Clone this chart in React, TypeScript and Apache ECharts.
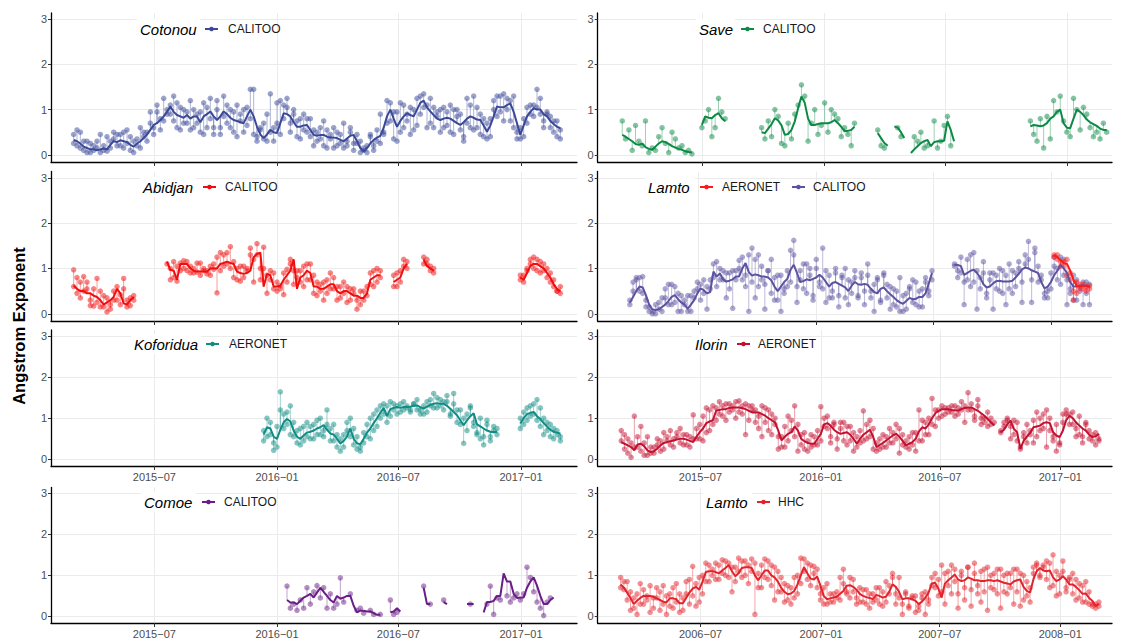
import React, { useEffect, useRef } from 'react';
import * as echarts from 'echarts';

const FONT = "'Liberation Sans', Arial, Helvetica, sans-serif";
const DAY = 86400000;
const STEP_DAYS = 5;
const START_A = '2015-03-02';
const START_B = '2006-03-01';

const TICKS_A = ['2015-07-01', '2016-01-01', '2016-07-01', '2017-01-01'];
const TICKS_B = ['2006-07-01', '2007-01-01', '2007-07-01', '2008-01-01'];
const Y_TICKS = [0, 1, 2, 3];

const _ = null;
const gap = (n: number): null[] => Array(n).fill(null);

// ---------- Cotonou CALITOO ----------
const cotonouSmooth = [
  0.33, 0.3, 0.25, 0.18, 0.15, 0.12, 0.12, 0.1, 0.12, 0.14,
  0.12, 0.22, 0.3, 0.28, 0.32, 0.3, 0.28, 0.22, 0.18, 0.25,
  0.3, 0.37, 0.45, 0.55, 0.66, 0.7, 0.77, 0.85, 0.95, 1.07,
  0.95, 0.88, 0.85, 0.82, 0.88, 0.8, 0.85, 0.85, 0.72, 0.85,
  0.9, 0.96, 0.85, 0.77, 0.85, 0.96, 0.9, 0.82, 0.77, 0.75,
  0.72, 0.7, 0.85, 1.0, 0.85, 0.62, 0.45, 0.37, 0.45, 0.55,
  0.5, 0.48, 0.7, 0.92, 0.9, 0.85, 0.72, 0.62, 0.62, 0.65,
  0.66, 0.55, 0.44, 0.42, 0.44, 0.44, 0.4, 0.38, 0.38, 0.37,
  0.33, 0.3, 0.36, 0.42, 0.44, 0.3, 0.15, 0.07, 0.15, 0.25,
  0.33, 0.38, 0.42, 0.6, 0.85, 1.0, 0.8, 0.62, 0.75, 0.85,
  0.92, 0.88, 0.85, 1.0, 1.15, 1.2, 1.05, 0.96, 0.88, 0.8,
  0.77, 0.8, 0.82, 0.8, 0.75, 0.7, 0.66, 0.72, 0.8, 0.85,
  0.82, 0.78, 0.77, 0.65, 0.51, 0.65, 0.85, 1.07, 1.05, 1.05,
  1.1, 1.14, 0.95, 0.7, 0.44, 0.65, 0.85, 0.95, 1.03, 1.0,
  1.0, 0.9, 0.85, 0.75, 0.68, 0.62, 0.59,
];
const cotonouObs = [
  0.45, 0.2, 0.5, 0.1, 0.3, 0.05, 0.2, 0.15, 0.45, 0.1, 0.08,
  0.3, 0.5, 0.2, 0.45, 0.15, 0.55, 0.1, 0.3, 0.2, 0.6, 0.4,
  0.5, 0.7, 0.45, 0.95, 0.8, 1.25, 0.9, 1.1, 1.3, 0.6, 1.05,
  0.7, 0.95, 0.55, 1.0, 0.9, 0.5, 1.15, 0.6, 1.25, 0.6, 1.0,
  0.45, 1.3, 0.7, 1.0, 0.5, 1.1, 0.75, 0.5, 1.05, 1.45, 0.45,
  0.4, 0.6, 0.35, 0.9, 0.5, 0.6, 0.7, 1.2, 1.1, 1.05, 0.7,
  1.0, 0.4, 0.8, 0.55, 0.8, 0.4, 0.55, 0.3, 0.6, 0.2, 0.55,
  0.35, 0.15, 0.5, 0.25, 0.7, 0.2, 0.6, 0.1, 0.25, 0.05, 0.1,
  0.2, 0.45, 0.1, 0.3, 0.9, 0.5, 1.2, 1.15, 0.35, 0.95, 0.5,
  1.1, 0.9, 0.45, 1.0, 0.65, 1.3, 1.35, 1.1, 0.7, 1.05, 0.85,
  0.5, 1.05, 0.95, 0.5, 1.0, 0.85, 0.55, 0.3, 1.25, 1.1, 0.55,
  1.05, 0.9, 0.4, 0.35, 0.8, 1.0, 1.3, 1.3, 0.75, 1.25, 1.2,
  0.6, 0.5, 0.35, 0.8, 0.7, 1.1, 1.1, 1.45, 0.9, 0.75, 0.95,
  0.6, 0.75, 0.4, 0.55,
];
const cotonouObs2 = [
  0.25, 0.55, 0.15, 0.3, 0.05, 0.25, 0.1, 0.3, 0.05, 0.2,
  0.4, 0.15, 0.35, 0.45, 0.2, 0.5, 0.25, 0.4, 0.05, 0.35,
  0.15, 0.5, 0.3, 0.95, 0.6, 1.1, 0.55, 0.75, 1.0, 0.9,
  0.75, 1.15, 0.55, 1.0, 0.7, 1.2, 0.6, 0.7, 0.95, 0.45,
  1.05, 0.8, 0.45, 1.2, 0.6, 0.85, 1.1, 0.6, 0.95, 0.4,
  0.9, 1.0, 0.65, 0.8, 1.45, 0.3, 0.55, 0.7, 0.3, 1.35,
  0.3, 1.15, 0.45, 0.8, 1.25, 0.5, 0.9, 0.75, 0.35, 0.9,
  0.5, 0.8, 0.2, 0.5, 0.35, 0.75, 0.15, 0.45, 0.6, 0.2,
  0.45, 0.15, 0.3, 0.5, 0.25, 0.45, 0.3, 0.15, 0.05, 0.4,
  0.2, 0.55, 0.25, 0.45, 0.7, 0.75, 0.95, 0.3, 1.15, 0.6,
  0.75, 1.05, 0.55, 1.25, 0.9, 1.05, 0.6, 1.25, 0.6, 0.95,
  1.0, 0.6, 0.65, 1.1, 0.45, 1.0, 0.9, 0.4, 0.7, 0.6,
  1.3, 0.6, 0.45, 0.8, 0.7, 0.4, 1.2, 0.85, 0.95, 1.35,
  1.0, 0.75, 1.3, 0.35, 0.6, 0.4, 1.05, 0.9, 0.85, 1.05,
  1.25, 0.6, 0.9, 0.85, 0.5, 0.75, 0.35,
];

// ---------- Abidjan CALITOO ----------
const abidjanSmooth = [
  0.62, 0.55, 0.5, 0.5, 0.45, 0.45, 0.4, 0.37, 0.3, 0.2, 0.25, 0.3, 0.37, 0.55, 0.45, 0.23, 0.2, 0.3, 0.37,
  ...gap(9),
  1.15, 0.97, 0.95, 0.75, 1.1, 1.1, 1.1, 1.0, 0.95, 0.93,
  0.93, 0.93, 0.93, 1.0, 1.0, 1.0, 1.1, 1.12, 1.15, 1.12,
  1.1, 0.93, 0.9, 0.88, 0.9, 0.95, 1.25, 1.32, 1.35, 0.6,
  0.88, 0.85, 0.6, 0.6, 0.62, 0.75, 0.85, 0.95, 1.2, 0.55,
  0.8, 0.85, 0.95, 0.9, 0.6, 0.6, 0.55, 0.55, 0.6, 0.65,
  0.65, 0.5, 0.45, 0.5, 0.5, 0.45, 0.4, 0.4, 0.35, 0.35,
  0.45, 0.75, 0.8, 0.85, 0.85,
  ...gap(3),
  0.7, 0.75, 0.8, 1.0, 1.1,
  ...gap(4),
  1.2, 1.05, 1.0, 0.95,
  ...gap(25),
  0.8, 0.75, 0.9, 1.05, 1.1, 1.1, 1.05, 1.0, 0.9, 0.8, 0.65, 0.55, 0.5,
];
const abidjanObs = [
  0.97, 0.45, 0.7, 0.82, 0.55, 0.18, 0.17, 0.78, 0.15, 0.4, 0.04, 0.2, 0.3, 0.6, 0.42, 0.78, 0.3, 0.18, 0.4,
  ...gap(9),
  1.1, 0.75, 1.15, 0.72, 1.12, 1.17, 0.95, 1.05, 0.9, 0.92,
  1.12, 0.95, 0.88, 1.05, 0.98, 0.46, 1.35, 1.3, 1.1, 1.48,
  0.8, 1.0, 0.72, 1.05, 0.95, 1.3, 0.7, 1.55, 1.0, 1.47,
  0.45, 0.95, 0.55, 0.5, 0.62, 0.42, 0.98, 1.2, 0.95, 0.8,
  0.95, 1.05, 0.75, 1.1, 0.45, 0.7, 0.5, 0.3, 0.75, 0.9,
  0.55, 0.3, 0.6, 0.7, 0.25, 0.55, 0.45, 0.1, 0.5, 0.3,
  0.4, 0.9, 0.6, 1.0, 0.8,
  ...gap(3),
  0.85, 0.6, 0.95, 1.2, 1.0,
  ...gap(4),
  1.25, 1.1, 0.95, 0.9,
  ...gap(25),
  0.75, 0.85, 1.0, 1.2, 1.25, 0.95, 1.15, 1.1, 0.8, 0.9, 0.6, 0.5, 0.45,
];
const abidjanObs2 = [
  0.6, 0.8, 0.35, 0.5, 0.7, 0.3, 0.55, 0.25, 0.5, 0.15, 0.35, 0.1, 0.5, 0.3, 0.2, 0.55, 0.15, 0.35, 0.3,
  ...gap(9),
  _, 1.0, 0.8, 1.05, 0.95, 1.0, 1.15, 0.9, 1.0, 1.12,
  0.85, 1.0, 0.95, 0.85, 1.1, 1.25, 0.95, 1.05, 1.35, 1.0,
  1.15, 0.75, 1.05, 0.8, 1.0, 1.45, 1.2, 1.3, 0.75, 1.0,
  0.85, 0.75, 0.9, 0.7, 0.55, 0.9, 0.7, 1.1, 0.65, 0.95,
  0.7, 0.6, 1.1, 0.75, 0.85, 0.4, 0.65, 0.7, 0.45, 0.55,
  0.8, 0.6, 0.35, 0.45, 0.6, 0.3, 0.55, 0.3, 0.2, 0.5,
  0.6, 0.65, 0.95, 0.7, 0.95,
  ...gap(3),
  0.6, 0.9, 0.7, 1.05, 1.15,
  ...gap(4),
  1.1, 1.2, 1.05, 1.0,
  ...gap(25),
  0.85, 0.7, 0.95, 1.1, 1.0, 1.2, 0.9, 0.95, 1.0, 0.7, 0.75, 0.5, 0.6,
];

// ---------- Koforidua AERONET ----------
const koforiduaSmooth = [
  ...gap(57),
  0.6, 0.78, 0.75, 0.55, 0.5, 0.72, 0.9, 0.98, 0.92, 0.7,
  0.55, 0.5, 0.58, 0.65, 0.67, 0.7, 0.75, 0.78, 0.83, 0.72,
  0.63, 0.6, 0.5, 0.39, 0.45, 0.55, 0.75, 0.5, 0.39, 0.37,
  0.5, 0.65, 0.75, 0.88, 1.0, 1.13, 1.25, 1.05, 1.22, 1.25,
  1.27, 1.25, 1.27, 1.27, 1.28, 1.3, 1.31, 1.27, 1.23, 1.28,
  1.32, 1.35, 1.36, 1.35, 1.35, 1.3, 1.23, 1.15, 1.07, 0.95,
  0.83, 0.95, 1.05, 1.12, 0.85, 0.8, 0.75, 0.7, 0.67, 0.66,
  0.67,
  ...gap(6),
  0.87, 1.0, 1.1, 1.13, 1.15, 1.05, 0.98, 0.88, 0.8, 0.72, 0.67, 0.65, 0.63,
];
const koforiduaObs = [
  ...gap(57),
  0.45, 1.0, 0.6, 0.22, 0.8, 1.64, 1.1, 0.85, 1.3, 0.55,
  0.4, 0.75, 0.45, 0.9, 0.5, 0.85, 0.6, 1.0, 0.55, 1.2,
  0.45, 0.85, 0.3, 0.2, 0.6, 0.9, 1.0, 0.35, 0.25, 0.2,
  0.65, 0.85, 0.5, 1.1, 0.8, 1.3, 1.35, 0.9, 1.4, 1.2,
  1.3, 1.15, 1.4, 1.25, 1.2, 1.35, 1.45, 1.2, 1.1, 1.4,
  1.3, 1.6, 1.25, 1.45, 1.4, 1.55, 1.1, 1.6, 1.2, 0.85,
  0.39, 1.1, 1.3, 0.9, 0.6, 0.5, 0.35, 0.95, 0.55, 0.8,
  0.6,
  ...gap(6),
  0.75, 1.15, 0.95, 1.3, 1.1, 1.45, 1.25, 0.6, 0.9, 0.55, 0.75, 0.6, 0.45,
];
const koforiduaObs2 = [
  ...gap(57),
  0.7, 0.55, 0.9, 0.4, 0.3, 1.2, 0.75, 1.15, 0.6, 0.9,
  0.7, 0.35, 0.8, 0.55, 0.8, 0.5, 0.95, 0.6, 0.7, 0.85,
  0.75, 0.45, 0.6, 0.5, 0.3, 0.7, 0.55, 0.75, 0.55, 0.3,
  0.4, 0.55, 1.0, 0.7, 1.2, 1.0, 1.1, 1.3, 1.05, 1.35,
  1.1, 1.35, 1.2, 1.3, 1.15, 1.35, 1.2, 1.1, 1.3, 1.15,
  1.45, 1.25, 1.5, 1.3, 1.2, 1.4, 1.05, 1.35, 0.9, 1.2,
  1.0, 0.7, 1.25, 0.8, 0.65, 1.0, 0.55, 0.85, 0.45, 0.7,
  0.75,
  ...gap(6),
  1.0, 0.85, 1.25, 1.05, 1.35, 0.95, 0.8, 1.0, 0.7, 0.85, 0.5, 0.7, 0.55,
];

// ---------- Comoe CALITOO ----------
const comoeSmooth = [
  ...gap(64),
  0.4, 0.34, 0.34, 0.3, 0.38, 0.46, 0.5, 0.55, 0.46, 0.58,
  0.7, 0.6, 0.5, 0.4, 0.34, 0.5, 0.43, 0.46, 0.5, 0.5,
  0.26, 0.1, 0.14, 0.14, 0.12, 0.12, 0.08, 0.04, 0.04,
  _, _,
  0.1, 0.12, 0.2, 0.12,
  ...gap(6),
  0.7, 0.3, 0.3,
  _, _, _,
  0.35, 0.3,
  ...gap(5),
  0.3, 0.3, 0.3,
  _, _,
  0.1, 0.35, 0.35, 0.38, 0.5, 0.5, 1.05, 0.85, 0.85, 0.55,
  0.45, 0.46, 0.46, 0.7, 0.85, 0.95, 0.75, 0.5, 0.3, 0.3,
  0.4, 0.46,
  _, _,
];
const comoeObs = [
  ...gap(64),
  0.74, 0.2, 0.3, 0.15, 0.4, 0.2, 0.7, 0.3, 0.6, 0.75,
  0.45, 0.7, 0.2, 0.55, 0.2, 0.3, 0.94, 0.35, _, 0.55,
  _, 0.15, 0.2, 0.08, _, 0.15, 0.05, _, 0.05,
  _, _,
  0.4, 0.05, 0.1, _,
  ...gap(6),
  0.74, _, 0.3,
  _, _, _,
  0.4, _,
  ...gap(5),
  _, 0.3, _,
  _, _,
  _, 0.3, 0.74, 0.05, 0.45, 0.4, _, 0.5, 0.35, 0.45,
  0.55, 0.4, 0.55, 1.2, 0.95, 0.6, 0.35, 0.2, 0.02, 0.35,
  0.45, _,
  _, _,
];

// ---------- Save CALITOO ----------
const saveSmooth = [
  0.44, 0.4, 0.35, 0.3, 0.24, 0.22, 0.25, 0.17, 0.13, 0.11,
  0.18, 0.25, 0.3, 0.28, 0.24, 0.19, 0.16, 0.13, 0.11, 0.08,
  0.06, 0.05,
  _, _,
  0.66, 0.85, 0.82, 0.81, 0.88, 0.92, 0.81, 0.74,
  ...gap(10),
  0.5, 0.48, 0.58, 0.68, 0.81, 0.76, 0.65, 0.44, 0.46, 0.55,
  0.74, 1.03, 1.29, 1.15, 0.8, 0.66, 0.66, 0.68, 0.7, 0.7,
  0.7, 0.72, 0.77, 0.7, 0.62, 0.52, 0.53, 0.55, 0.62,
  ...gap(6),
  0.48, 0.37, 0.26, 0.2,
  _,
  0.63, 0.6, 0.5, 0.37,
  _,
  0.04, 0.12, 0.19, 0.26, 0.3, 0.33, 0.19, 0.28, 0.3, 0.3,
  0.31, 0.74, 0.55, 0.3,
  ...gap(22),
  0.63, 0.66, 0.65, 0.63, 0.65, 0.7, 0.8, 0.85, 0.95, 1.0,
  0.7, 0.6, 0.59, 0.8, 1.0, 0.95, 0.88, 0.78, 0.72, 0.68,
  0.64, 0.58, 0.55, 0.55,
];
const saveObs = [
  0.75, 0.35, 0.55, 0.1, 0.65, 0.3, 0.2, 0.75, 0.05, 0.15,
  0.1, 0.4, 0.6, 0.25, 0.05, 0.5, 0.35, 0.15, 0.2, 0.05,
  0.1, 0.02,
  _, _,
  0.6, 0.75, 1.0, 0.4, 0.6, 1.25, 0.95, 0.8,
  ...gap(10),
  0.6, 0.35, 0.75, 0.4, 1.0, 0.85, 0.25, 0.2, 0.7, 0.35,
  0.9, 1.1, 1.55, 1.3, 0.3, 0.7, 1.0, 0.45, 0.65, 1.15,
  0.5, 1.0, 0.9, 0.8, 0.4, 0.6, 0.45, 0.2, 0.7,
  ...gap(6),
  0.55, 0.2, 0.15, _,
  _,
  _, 0.6, 0.4, _,
  _,
  _, 0.4, 0.3, 0.5, 0.15, 0.2, _, 0.75, 0.15, 0.3,
  0.65, 0.85, 0.2, _,
  ...gap(22),
  0.75, 0.45, 0.3, 0.8, 0.15, 0.85, 0.35, 1.2, 0.95, 1.3,
  0.75, 0.5, 0.4, 1.25, 1.0, 0.55, 1.05, 0.9, 0.6, 0.4,
  0.5, 0.35, 0.7, 0.5,
];

// ---------- Lamto CALITOO / AERONET ----------
const lamtoCalSmooth = [
  _, _, _,
  0.25, 0.37, 0.5, 0.6, 0.58, 0.41, 0.2, 0.1, 0.08, 0.1,
  0.15, 0.2, 0.28, 0.37, 0.41, 0.32, 0.25, 0.2, 0.11, 0.2,
  0.3, 0.45, 0.56, 0.52, 0.45, 0.48, 0.93, 0.82, 0.89, 0.76,
  0.71, 0.73, 0.76, 0.82, 0.82, 1.0, 1.12, 0.92, 0.84, 0.87,
  0.85, 0.82, 0.82, 0.8, 0.74, 0.6, 0.5, 0.6, 0.7, 0.77,
  0.97, 1.08, 0.9, 0.7, 0.72, 0.76, 0.74, 0.77, 0.8, 0.86,
  0.8, 0.7, 0.6, 0.68, 0.7, 0.66, 0.62, 0.58, 0.5, 0.62,
  0.7, 0.65, 0.64, 0.66, 0.64, 0.55, 0.48, 0.45, 0.55, 0.58,
  0.5, 0.43, 0.37, 0.3, 0.25, 0.22, 0.28, 0.35, 0.32, 0.33,
  0.37, 0.37, 0.45, 0.67, 0.9,
  ...gap(6),
  1.08, 1.08, 1.05, 0.86, 0.9, 0.95, 0.97, 0.9, 0.8, 0.65,
  0.58, 0.6, 0.67, 0.72, 0.73, 0.71, 0.71, 0.71, 0.73, 0.8,
  0.88, 0.98, 1.02, 1.0, 0.96, 0.93, 0.9, 0.7, 0.56, 0.6,
  0.7, 0.85, 0.95, 1.08, 1.0, 0.9, 0.7, 0.6, 0.6, 0.61,
  0.63, 0.61, 0.6,
];
const lamtoCalObs = [
  _, _, _,
  0.3, 0.7, 0.8, 0.5, 0.82, 0.15, 0.05, 0.0, 0.2, 0.1,
  0.35, 0.55, 0.65, 0.2, 0.6, 0.05, 0.4, 0.3, 0.05, 0.4,
  0.5, 0.7, 0.3, 0.75, 0.1, 0.55, 1.1, 0.6, 1.0, 0.75,
  0.35, 0.9, 0.12, 0.95, 1.18, 1.25, 0.6, 0.05, 1.45, 0.35,
  1.3, 0.75, 0.1, 0.95, 1.2, 0.3, 0.85, 0.05, 0.55, 0.95,
  1.4, 1.62, 0.25, 0.75, 1.1, 0.45, 1.0, 0.3, 1.2, 0.6,
  1.45, 0.25, 0.85, 0.35, 0.9, 0.15, 0.8, 1.0, 0.2, 0.7,
  0.95, 0.4, 0.8, 0.2, 1.1, 0.5, 0.05, 0.75, 0.3, 0.9,
  0.35, 0.1, 0.55, 0.15, 0.8, 0.05, 0.45, 0.6, 0.25, 0.7,
  0.15, 0.55, 0.8, 0.5, 0.95,
  ...gap(6),
  1.05, 0.95, 1.25, 0.2, 1.2, 0.6, 1.35, 0.1, 0.8, 1.15,
  0.45, 0.9, 0.1, 0.85, 0.5, 0.95, 0.2, 1.1, 0.45, 0.9,
  1.0, 0.25, 1.3, 1.6, 0.25, 1.45, 1.05, 0.75, 0.35, 0.5,
  0.9, 1.25, 1.0, 0.65, 1.2, 0.2, 0.55, 0.85, 0.3, 0.6,
  0.2, 0.7, 0.2,
];
const lamtoCalObs2 = [
  _, _, _,
  0.2, 0.5, 0.75, 0.8, 0.45, 0.3, 0.15, 0.05, 0.0, 0.25,
  0.05, 0.35, 0.2, 0.65, 0.25, 0.45, 0.05, 0.2, 0.4, 0.05,
  0.35, 0.55, 0.65, 0.45, 0.6, 0.75, 0.8, 1.15, 0.75, 0.95,
  0.9, 0.55, 0.95, 0.75, 1.0, 0.75, 0.85, 1.3, 0.7, 1.2,
  0.6, 1.05, 0.65, 0.95, 0.45, 0.8, 0.3, 0.85, 0.45, 0.6,
  0.7, 1.3, 0.6, 0.95, 0.55, 1.1, 0.85, 0.4, 1.0, 0.7,
  0.55, 0.95, 0.35, 0.5, 1.0, 0.4, 0.85, 0.35, 0.75, 0.45,
  0.8, 0.35, 0.9, 0.5, 0.85, 0.35, 0.65, 0.8, 0.25, 0.85,
  0.65, 0.6, 0.2, 0.5, 0.05, 0.4, 0.1, 0.55, 0.75, 0.2,
  0.5, 0.15, 0.7, 0.4, 0.75,
  ...gap(6),
  1.1, 0.8, 0.9, 0.7, 0.75, 1.3, 0.7, 0.95, 0.55, 0.9,
  0.35, 0.75, 0.9, 0.55, 1.0, 0.45, 0.85, 0.55, 0.95, 0.6,
  1.15, 0.7, 1.1, 1.2, 0.75, 1.35, 0.7, 0.85, 0.45, 0.35,
  0.55, 1.05, 0.75, 1.25, 0.85, 0.75, 0.45, 0.3, 0.75, 0.5,
  0.7, 0.45, 0.65,
];
const lamtoAerSmooth = [
  ...gap(135),
  1.3, 1.25, 1.18, 1.12, 1.1, 0.95, 0.75, 0.62, 0.6, 0.62, 0.62, 0.6,
];
const lamtoAerObs = [
  ...gap(135),
  1.3, 1.2, 1.05, 1.15, 0.85, 0.9, 0.3, 0.45, 0.65, 0.55, 0.6, 0.55,
];
const lamtoAerObs2 = [
  ...gap(135),
  1.25, 1.3, 1.15, 1.05, 1.2, 0.75, 0.5, 0.7, 0.55, 0.65, 0.5, 0.62,
];

// ---------- Ilorin AERONET ----------
const ilorinSmooth = [
  0.42, 0.38, 0.34, 0.3, 0.22, 0.36, 0.38, 0.32, 0.22, 0.18,
  0.2, 0.26, 0.34, 0.4, 0.42, 0.44, 0.46, 0.48, 0.5, 0.5,
  0.48, 0.45, 0.42, 0.55, 0.66, 0.75, 0.88, 0.92, 0.95, 1.18,
  1.2, 1.22, 1.22, 1.25, 1.26, 1.26, 1.26, 1.24, 1.22, 1.18,
  1.14, 1.14, 1.14, 1.1, 1.06, 1.0, 0.95, 0.9, 0.7, 0.46,
  0.55, 0.62, 0.66, 0.8, 0.7, 0.5, 0.44, 0.4, 0.38, 0.38,
  0.5, 0.62, 0.85, 0.88, 0.82, 0.72, 0.66, 0.62, 0.64, 0.66,
  0.6, 0.5, 0.38, 0.5, 0.6, 0.66, 0.72, 0.55, 0.3, 0.35,
  0.4, 0.46, 0.52, 0.58, 0.62, 0.55, 0.45, 0.34, 0.38, 0.42,
  0.5, 0.68, 0.78, 0.75, 0.85, 1.0, 1.12, 1.18, 1.22, 1.22,
  1.22, 1.2, 1.19, 1.18, 1.22, 1.25, 1.26, 1.26, 1.22, 1.18,
  1.12, 1.06, 0.98, 0.9, 0.82, _, 0.66, 0.72, 0.85, 0.94,
  0.74, 0.66, 0.26, 0.45, 0.55, 0.65, 0.78, 0.8, 0.82, 0.88,
  0.9, 0.88, 0.66, 0.58, 0.54, 0.7, 0.95, 1.06, 1.0, 0.9,
  0.82, 0.75, 0.7, 0.6, 0.54, 0.56, 0.62,
];
const ilorinObs = [
  0.7, 0.25, 0.5, 0.05, 1.05, 0.3, 0.8, 0.1, 0.55, 0.15,
  0.3, 0.5, 0.2, 0.65, 0.45, 0.7, 0.3, 0.55, 0.75, 0.35,
  0.6, 0.3, 1.08, 0.5, 0.85, 0.45, 1.25, 0.7, 1.3, 0.95,
  1.4, 1.05, 1.35, 1.15, 1.3, 1.0, 1.42, 1.1, 0.6, 1.3,
  1.2, 0.9, 1.05, 0.55, 1.25, 0.7, 1.1, 1.0, 0.25, 0.55,
  0.3, 1.05, 0.7, 1.3, 0.2, 0.6, 0.25, 0.45, 0.3, 0.55,
  0.35, 1.28, 0.8, 1.05, 0.4, 0.9, 0.25, 0.75, 0.9, 0.35,
  0.8, 0.2, 0.55, 0.7, 1.18, 0.5, 0.95, 0.25, 0.2, 0.5,
  0.6, 0.3, 0.75, 0.4, 0.85, 0.15, 0.6, 0.3, 0.55, 0.65,
  0.2, 1.2, 0.45, 0.9, 0.6, 1.48, 0.8, 1.2, 1.05, 1.25,
  1.15, 1.3, 1.05, 1.25, 1.4, 0.9, 1.62, 1.2, 0.95, 1.45,
  0.85, 1.0, 0.8, 1.0, _, _, 0.65, 0.9, 1.0, 0.5,
  0.95, 0.45, 0.25, 0.55, 0.85, 0.6, 0.4, 1.15, 0.7, 1.1,
  0.3, 1.0, 0.55, 0.2, 0.35, 1.1, 1.2, 1.1, 0.85, 0.55,
  0.6, 0.4, 0.85, 0.5, 0.6, 0.35, 0.45,
];
const ilorinObs2 = [
  0.45, 0.6, 0.15, 0.4, 0.3, 0.55, 0.2, 0.4, 0.1, 0.3,
  0.15, 0.35, 0.45, 0.25, 0.55, 0.35, 0.5, 0.65, 0.4, 0.6,
  0.35, 0.55, 0.5, 0.75, 0.5, 1.05, 0.65, 1.2, 0.85, 1.25,
  1.1, 1.3, 0.95, 1.35, 1.2, 1.4, 1.15, 1.3, 1.35, 0.95,
  1.3, 1.2, 0.75, 1.3, 0.9, 1.2, 0.6, 0.85, 0.55, 0.3,
  0.8, 0.45, 0.95, 0.55, 0.85, 0.35, 0.65, 0.2, 0.6, 0.35,
  0.7, 0.45, 1.0, 0.75, 0.55, 0.85, 0.5, 0.9, 0.45, 0.8,
  0.45, 0.65, 0.3, 0.4, 0.45, 0.85, 0.55, 0.75, 0.4, 0.25,
  0.3, 0.55, 0.4, 0.65, 0.5, 0.75, 0.35, 0.45, 0.25, 0.35,
  0.65, 0.45, 0.95, 0.6, 1.0, 0.85, 1.2, 1.0, 1.3, 1.1,
  1.25, 1.15, 1.3, 1.1, 1.2, 1.3, 1.2, 1.35, 1.05, 1.3,
  1.0, 0.9, 1.15, 0.85, 0.9, _, 0.7, 0.8, 0.95, 0.8,
  0.6, 0.9, 0.3, 0.65, 0.4, 0.7, 0.95, 0.55, 1.0, 0.75,
  1.2, 0.7, 0.45, 0.85, 0.4, 0.9, 1.1, 0.85, 1.15, 0.75,
  1.05, 0.55, 0.9, 0.7, 0.45, 0.65, 0.5,
];

// ---------- Lamto HHC (2006-2008) ----------
const hhcSmooth = [
  0.78, 0.7, 0.58, 0.45, 0.3, 0.38, 0.45, 0.5, 0.5, 0.5,
  0.48, 0.44, 0.4, 0.36, 0.34, 0.44, 0.44, 0.42, 0.32, 0.32,
  0.45, 0.58, 0.68, 0.72, 0.65, 0.85, 1.08, 1.1, 1.1, 1.08,
  1.05, 1.12, 1.18, 1.25, 1.1, 0.98, 1.05, 1.18, 1.2, 1.2,
  1.18, 1.0, 0.88, 1.0, 1.12, 1.12, 1.0, 0.95, 0.85, 0.7,
  0.6, 0.54, 0.56, 0.62, 0.78, 1.0, 1.2, 1.05, 0.92, 0.9,
  0.97, 0.75, 0.5, 0.42, 0.44, 0.46, 0.48, 0.55, 0.62, 0.75,
  0.76, 0.72, 0.65, 0.55, 0.5, 0.47, 0.45, 0.42, 0.52, 0.5,
  0.46, 0.48, 0.6, 0.78, 0.72, 0.6, 0.42, 0.44, 0.44, 0.42,
  0.38, 0.3, 0.36, 0.45, 0.58, 0.8, 0.82, 0.68, 0.46, 0.8,
  0.88, 0.95, 1.02, 0.9, 0.86, 0.88, 0.95, 0.92, 0.88, 0.88,
  0.86, 0.86, 0.88, 0.88, 0.86, 0.88, 0.85, 0.82, 0.8, 0.78,
  0.85, 0.88, 0.9, 0.72, 0.62, 0.58, 0.9, 1.1, 1.18, 1.12,
  1.1, 1.12, 0.95, 0.86, 0.9, 0.98, 0.9, 0.78, 0.78, 0.72,
  0.64, 0.55, 0.56, 0.45, 0.38, 0.26, 0.3,
];
const hhcObs = [
  0.95, 0.65, 0.85, 0.15, 0.45, 0.05, 0.8, 0.3, 0.5, 0.1,
  0.45, 0.7, 0.15, 0.75, 0.05, 0.55, 0.2, 0.8, 0.1, 0.45,
  0.85, 0.3, 1.22, 0.25, 0.95, 0.55, 1.3, 0.85, 1.15, 1.3,
  0.9, 1.38, 1.0, 1.3, 0.6, 1.2, 1.42, 0.95, 1.35, 0.8,
  1.4, 0.05, 1.05, 0.7, 1.4, 0.9, 1.25, 0.4, 1.1, 0.6,
  0.35, 0.75, 0.3, 0.95, 0.55, 1.42, 1.4, 0.9, 1.25, 1.22,
  0.7, 0.4, 0.3, 0.8, 0.35, 0.55, 0.45, 0.95, 1.15, 0.6,
  0.45, 0.9, 0.3, 0.7, 0.35, 0.65, 0.2, 0.55, 0.4, 0.7,
  0.25, 0.85, 0.55, 1.05, 0.3, 0.95, 0.05, 0.55, 0.2, 0.5,
  0.1, 0.25, 0.55, 0.05, 0.3, 0.95, 1.05, 0.5, 1.25, 0.3,
  1.1, 0.55, 1.15, 0.2, 1.0, 0.4, 1.2, 0.25, 1.3, 0.55,
  0.35, 1.15, 0.15, 1.0, 0.65, 1.15, 0.2, 1.0, 0.55, 1.05,
  0.3, 1.15, 0.25, 1.0, 0.5, 0.35, 1.2, 1.3, 1.0, 1.25,
  1.35, 0.7, 1.5, 0.5, 1.0, 1.35, 0.6, 0.9, 1.05, 0.4,
  0.8, 0.35, 0.85, 0.3, 0.25, 0.3, 0.25,
];
const hhcObs2 = [
  0.7, 0.85, 0.4, 0.6, 0.2, 0.55, 0.3, 0.65, 0.4, 0.75,
  0.2, 0.45, 0.6, 0.3, 0.5, 0.25, 0.7, 0.35, 0.55, 0.15,
  0.55, 0.9, 0.5, 0.8, 0.35, 1.0, 0.85, 1.25, 1.0, 0.9,
  1.25, 1.05, 1.35, 0.95, 1.2, 0.85, 1.1, 1.35, 1.0, 1.25,
  1.1, 1.3, 0.7, 1.25, 0.95, 1.35, 0.75, 1.2, 0.6, 0.95,
  0.8, 0.4, 0.7, 0.45, 1.0, 0.8, 1.1, 1.3, 0.75, 1.05,
  1.15, 0.55, 0.7, 0.3, 0.55, 0.35, 0.6, 0.4, 0.8, 0.55,
  0.95, 0.6, 0.45, 0.35, 0.65, 0.3, 0.55, 0.35, 0.7, 0.3,
  0.6, 0.35, 0.75, 0.95, 0.55, 0.45, 0.3, 0.6, 0.25, 0.45,
  0.5, 0.15, 0.45, 0.6, 0.4, 0.75, 0.7, 0.9, 0.6, 1.05,
  0.75, 1.25, 0.85, 0.55, 1.1, 0.7, 1.2, 0.65, 1.05, 0.75,
  1.1, 0.6, 1.2, 0.7, 1.05, 0.55, 1.15, 0.6, 1.05, 0.7,
  1.15, 0.6, 1.05, 0.4, 0.85, 0.7, 1.05, 1.25, 0.95, 1.2,
  0.9, 1.3, 0.75, 1.1, 0.55, 1.1, 0.7, 0.95, 0.55, 0.9,
  0.45, 0.75, 0.35, 0.6, 0.3, 0.2, 0.35,
];

// ---------- layout / styling ----------
const ROWS = [
  { top: 13, bottom: 162 },
  { top: 171.5, bottom: 321 },
  { top: 330, bottom: 466 },
  { top: 487.5, bottom: 625 },
];
const COLS = [
  { left: 51, right: 577 },
  { left: 597.7, right: 1112 },
];

type Series = (number | null)[];
type Entry = { label: string; color: string; start: string; smooth: Series; obs: Series[]; keyX: number; labelX: number };
type Panel = { row: number; col: number; xMin: string; xMax: string; ticks: string[]; showLabels: boolean; site: string; siteX: number; siteW: number; legendY: number; entries: Entry[] };

const PANELS: Panel[] = [
  { row: 0, col: 0, xMin: '2015-01-27', xMax: '2017-03-26', ticks: TICKS_A, showLabels: false, site: 'Cotonou', siteX: 140, siteW: 57, legendY: 29,
    entries: [{ label: 'CALITOO', color: '#3a4897', start: START_A, smooth: cotonouSmooth, obs: [cotonouObs, cotonouObs2], keyX: 205, labelX: 228 }] },
  { row: 0, col: 1, xMin: '2015-01-24', xMax: '2017-03-09', ticks: TICKS_A, showLabels: false, site: 'Save', siteX: 699, siteW: 33, legendY: 29,
    entries: [{ label: 'CALITOO', color: '#0b8a45', start: START_A, smooth: saveSmooth, obs: [saveObs], keyX: 741, labelX: 763 }] },
  { row: 1, col: 0, xMin: '2015-01-27', xMax: '2017-03-26', ticks: TICKS_A, showLabels: false, site: 'Abidjan', siteX: 143, siteW: 50, legendY: 187,
    entries: [{ label: 'CALITOO', color: '#f20c0c', start: START_A, smooth: abidjanSmooth, obs: [abidjanObs, abidjanObs2], keyX: 203, labelX: 225 }] },
  { row: 1, col: 1, xMin: '2015-01-26', xMax: '2017-04-05', ticks: TICKS_A, showLabels: false, site: 'Lamto', siteX: 648, siteW: 44, legendY: 187,
    entries: [
      { label: 'CALITOO', color: '#5c52a0', start: START_A, smooth: lamtoCalSmooth, obs: [lamtoCalObs, lamtoCalObs2], keyX: 792, labelX: 813 },
      { label: 'AERONET', color: '#ff1a1a', start: START_A, smooth: lamtoAerSmooth, obs: [lamtoAerObs, lamtoAerObs2], keyX: 700, labelX: 722 },
    ] },
  { row: 2, col: 0, xMin: '2015-01-27', xMax: '2017-03-26', ticks: TICKS_A, showLabels: true, site: 'Koforidua', siteX: 134, siteW: 64, legendY: 344,
    entries: [{ label: 'AERONET', color: '#0f8c84', start: START_A, smooth: koforiduaSmooth, obs: [koforiduaObs, koforiduaObs2], keyX: 206, labelX: 229 }] },
  { row: 2, col: 1, xMin: '2015-01-25', xMax: '2017-03-21', ticks: TICKS_A, showLabels: true, site: 'Ilorin', siteX: 695, siteW: 32, legendY: 344,
    entries: [{ label: 'AERONET', color: '#c4102f', start: START_A, smooth: ilorinSmooth, obs: [ilorinObs, ilorinObs2], keyX: 737, labelX: 758 }] },
  { row: 3, col: 0, xMin: '2015-01-27', xMax: '2017-03-26', ticks: TICKS_A, showLabels: true, site: 'Comoe', siteX: 144, siteW: 49, legendY: 502,
    entries: [{ label: 'CALITOO', color: '#6a1d86', start: START_A, smooth: comoeSmooth, obs: [comoeObs], keyX: 202, labelX: 224 }] },
  { row: 3, col: 1, xMin: '2006-01-25', xMax: '2008-03-20', ticks: TICKS_B, showLabels: true, site: 'Lamto', siteX: 706, siteW: 43, legendY: 502,
    entries: [{ label: 'HHC', color: '#e3232b', start: START_B, smooth: hhcSmooth, obs: [hhcObs, hhcObs2], keyX: 757, labelX: 778 }] },
];

function toTs(d: string): number {
  const [y, m, dd] = d.split('-').map(Number);
  return Date.UTC(y, m - 1, dd);
}
function fmtMonth(v: number): string {
  const d = new Date(v);
  return `${d.getUTCFullYear()}\u2212${String(d.getUTCMonth() + 1).padStart(2, '0')}`;
}

function buildOption() {
  const grid: any[] = [];
  const xAxis: any[] = [];
  const yAxis: any[] = [];
  const series: any[] = [];
  const graphic: any[] = [];

  PANELS.forEach((p, k) => {
    const r = ROWS[p.row];
    const c = COLS[p.col];
    grid.push({ left: c.left, top: r.top, width: c.right - c.left, height: r.bottom - r.top, show: false });
    const tickTs = p.ticks.map(toTs);
    xAxis.push({
      gridIndex: k, type: 'value', min: toTs(p.xMin), max: toTs(p.xMax),
      axisLine: { show: true, onZero: false, lineStyle: { color: '#000', width: 1.3 } },
      axisTick: { show: true, customValues: tickTs, length: 4, lineStyle: { color: '#333', width: 1 } },
      axisLabel: { show: p.showLabels, customValues: tickTs, formatter: fmtMonth, color: '#4d4d4d', fontSize: 11, fontFamily: FONT, margin: 5 },
      splitLine: { show: false },
    });
    yAxis.push({
      gridIndex: k, type: 'value', min: -0.16, max: 3.14,
      axisLine: { show: true, onZero: false, lineStyle: { color: '#000', width: 1.3 } },
      axisTick: { show: true, customValues: Y_TICKS, length: 3, lineStyle: { color: '#333', width: 1 } },
      axisLabel: { customValues: Y_TICKS, color: '#4d4d4d', fontSize: 11, fontFamily: FONT, margin: 4 },
      splitLine: { show: false },
    });
    // grid lines (drawn beneath the data)
    series.push({
      type: 'line', xAxisIndex: k, yAxisIndex: k, data: [[toTs(p.xMin), '-']], silent: true, z: 0, symbol: 'none',
      markLine: {
        silent: true, z: 0, symbol: ['none', 'none'], label: { show: false },
        lineStyle: { color: '#ebebeb', width: 1, type: 'solid' },
        emphasis: { disabled: true },
        data: [...tickTs.map((t) => ({ xAxis: t })), ...Y_TICKS.map((v) => ({ yAxis: v }))],
      },
    });

    p.entries.forEach((e) => {
      const t0 = toTs(e.start);
      const seg: any[] = [];
      const pts: any[] = [];
      const line: any[] = [];
      e.smooth.forEach((s, i) => {
        const t = t0 + i * STEP_DAYS * DAY;
        line.push([t, s == null ? '-' : s]);
        e.obs.forEach((arr) => {
          const o = arr[i];
          if (o != null) {
            pts.push([t, o]);
            if (s != null) seg.push([t, o, s]);
          }
        });
      });
      series.push({
        type: 'custom', xAxisIndex: k, yAxisIndex: k, z: 2, silent: true, clip: true,
        data: seg, encode: { x: 0, y: [1, 2] },
        renderItem: (_p: any, api: any) => {
          const a = api.coord([api.value(0), api.value(1)]);
          const b = api.coord([api.value(0), api.value(2)]);
          return { type: 'line', shape: { x1: a[0], y1: a[1], x2: b[0], y2: b[1] }, style: { stroke: e.color, lineWidth: 0.8, opacity: 0.5 } };
        },
      });
      series.push({
        type: 'scatter', xAxisIndex: k, yAxisIndex: k, z: 3, silent: true, symbolSize: 5.5,
        itemStyle: { color: e.color, opacity: 0.5 }, data: pts,
      });
      series.push({
        type: 'line', xAxisIndex: k, yAxisIndex: k, z: 4, silent: true, symbol: 'none', showSymbol: false,
        connectNulls: false, lineStyle: { color: e.color, width: 2 }, data: line,
      });
      // legend key
      graphic.push({ type: 'line', z: 20, shape: { x1: e.keyX, y1: p.legendY, x2: e.keyX + 13, y2: p.legendY }, style: { stroke: e.color, lineWidth: 2 } });
      graphic.push({ type: 'circle', z: 21, shape: { cx: e.keyX + 6.5, cy: p.legendY, r: 2.3 }, style: { fill: e.color } });
      graphic.push({
        type: 'text', z: 21, x: e.labelX, y: p.legendY,
        style: { text: e.label, fontSize: 12, fontFamily: FONT, fill: '#1a1a1a', align: 'left', verticalAlign: 'middle', textAlign: 'left', textVerticalAlign: 'middle' },
      });
    });
    graphic.push({ type: 'rect', z: 19, shape: { x: p.siteX - 3, y: p.legendY - 10, width: p.siteW + 6, height: 20 }, style: { fill: '#fff' } });
    graphic.push({
      type: 'text', z: 21, x: p.siteX, y: p.legendY,
      style: { text: p.site, fontSize: 15, fontStyle: 'italic', fontFamily: FONT, fill: '#000', align: 'left', verticalAlign: 'middle', textAlign: 'left', textVerticalAlign: 'middle' },
    });
  });

  graphic.push({
    type: 'text', x: 18.5, y: 326, rotation: Math.PI / 2, z: 21,
    style: { text: 'Angstrom Exponent', fontSize: 16.5, fontWeight: 'bold', fontFamily: FONT, fill: '#000', align: 'center', verticalAlign: 'middle', textAlign: 'center', textVerticalAlign: 'middle' },
  });

  return { animation: false, backgroundColor: '#fff', grid, xAxis, yAxis, series, graphic };
}

export default function App() {
  const ref = useRef<HTMLDivElement>(null);
  useEffect(() => {
    if (!ref.current) return;
    const chart = echarts.init(ref.current, undefined, { renderer: 'svg' });
    chart.setOption(buildOption() as any);
    return () => chart.dispose();
  }, []);
  return <div ref={ref} style={{ position: 'fixed', left: 0, top: 0, width: 1121, height: 639, background: '#fff' }} />;
}
